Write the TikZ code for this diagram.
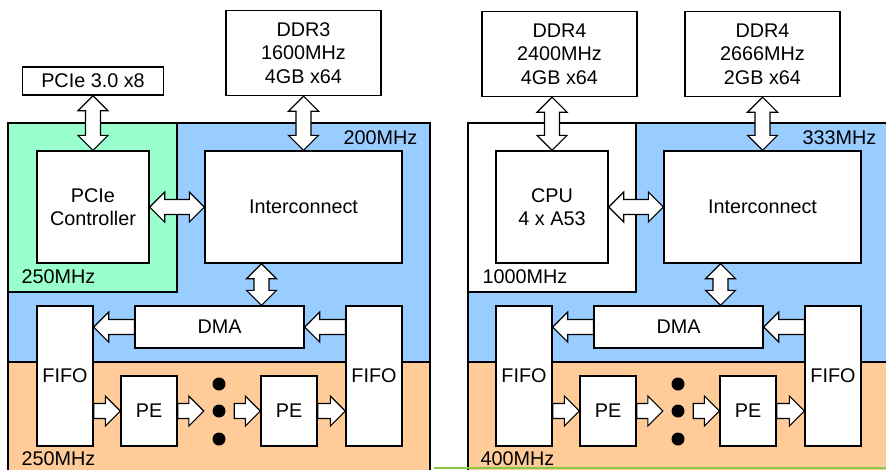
\documentclass[tikz,border=0pt]{standalone}
\usepackage{fontspec}
\setmainfont{Liberation Sans}
\usetikzlibrary{calc}

\definecolor{regiongreen}{RGB}{153,255,204}
\definecolor{regionblue}{RGB}{153,204,255}
\definecolor{regionorange}{RGB}{255,204,153}
\definecolor{edgegreen}{RGB}{140,200,70}

\tikzset{
  box/.style={draw, fill=white, inner sep=0pt, align=center},
  dot/.style={circle, fill=black, inner sep=0pt, minimum size=13pt},
  freq/.style={inner sep=0pt},
  bigarrow/.style={draw, fill=white, line join=miter, line width=1.2pt},
  twoway/.style={bigarrow, to path={
    -- ($(\tikztostart)!15pt!(\tikztotarget)!15pt!90:(\tikztotarget)$)
    -- ($(\tikztostart)!15pt!(\tikztotarget)!7.5pt!90:(\tikztotarget)$)
    -- ($(\tikztotarget)!15pt!(\tikztostart)!7.5pt!-90:(\tikztostart)$)
    -- ($(\tikztotarget)!15pt!(\tikztostart)!15pt!-90:(\tikztostart)$)
    -- (\tikztotarget)
    -- ($(\tikztotarget)!15pt!(\tikztostart)!15pt!90:(\tikztostart)$)
    -- ($(\tikztotarget)!15pt!(\tikztostart)!7.5pt!90:(\tikztostart)$)
    -- ($(\tikztostart)!15pt!(\tikztotarget)!7.5pt!-90:(\tikztotarget)$)
    -- ($(\tikztostart)!15pt!(\tikztotarget)!15pt!-90:(\tikztotarget)$)
    -- cycle}},
  oneway/.style={bigarrow, to path={
    -- ($(\tikztostart)!7.5pt!90:(\tikztotarget)$)
    -- ($(\tikztotarget)!15pt!(\tikztostart)!7.5pt!-90:(\tikztostart)$)
    -- ($(\tikztotarget)!15pt!(\tikztostart)!15pt!-90:(\tikztostart)$)
    -- (\tikztotarget)
    -- ($(\tikztotarget)!15pt!(\tikztostart)!15pt!90:(\tikztostart)$)
    -- ($(\tikztotarget)!15pt!(\tikztostart)!7.5pt!90:(\tikztostart)$)
    -- ($(\tikztostart)!7.5pt!-90:(\tikztotarget)$)
    -- cycle}}
}

\begin{document}
\begin{tikzpicture}[x=1pt, y=-1pt, line width=1.3pt, font=\fontsize{19.8}{23.5}\selectfont]
  \path[use as bounding box] (0,0) rectangle (886,469);
  \clip (0,0) rectangle (886,469);
  % Left board: clock regions
  \draw[fill=regionorange] (8,362) rectangle (430,480);
  \draw[fill=regionblue] (8,123) rectangle (430,362);
  \draw[fill=regiongreen] (8,123) rectangle (177,292);
  \node[freq, anchor=base east] (clkA1) at (418,144) {200MHz};
  \node[freq, anchor=base west] (clkA2) at (21,283) {250MHz};
  \node[freq, anchor=base west] (clkA3) at (21,465) {250MHz};
  % Left board: blocks
  \node[box, minimum width=141pt, minimum height=28pt] (pcie) at (93,81) {PCIe 3.0 x8};
  \node[box, minimum width=155pt, minimum height=85pt] (ddr3) at (303.5,53) {DDR3\\1600MHz\\4GB x64};
  \node[box, minimum width=112pt, minimum height=112pt] (pcieCtl) at (93,207) {PCIe\\Controller};
  \node[box, minimum width=197pt, minimum height=112pt] (icA) at (303.5,207) {Interconnect};
  \node[box, minimum width=169pt, minimum height=42pt] (dmaA) at (219.5,327) {DMA};
  \node[box, minimum width=56pt, minimum height=140pt] (fifoA1) at (65,376) {FIFO};
  \node[box, minimum width=56pt, minimum height=140pt] (fifoA2) at (374,376) {FIFO};
  \node[box, minimum width=56pt, minimum height=70pt] (peA1) at (149,411) {PE};
  \node[box, minimum width=56pt, minimum height=70pt] (peA2) at (289,411) {PE};
  \node[dot] (dotA1) at (219,384) {};
  \node[dot] (dotA2) at (219,411) {};
  \node[dot] (dotA3) at (219,439) {};
  % Left board: data paths
  \coordinate (busA) at ($(icA.south)!.5!(dmaA.north)$);
  \coordinate (dmaA1) at (dmaA.west -| fifoA1.east);
  \coordinate (dmaA2) at (dmaA.east -| fifoA2.west);
  \coordinate (inA1) at (fifoA1.east |- peA1.west);
  \coordinate (outA2) at (fifoA2.west |- peA2.east);
  \coordinate (dotsInA) at ($(dotA2.west)+(-8,0)$);
  \coordinate (dotsOutA) at ($(dotA2.east)+(8,0)$);
  \draw[twoway] (pcie.south) to (pcieCtl.north);
  \draw[twoway] (ddr3.south) to (icA.north);
  \draw[twoway] (pcieCtl.east) to (icA.west);
  \draw[twoway] (busA |- icA.south) to (busA |- dmaA.north);
  \draw[oneway] (dmaA.west) to (dmaA1);
  \draw[oneway] (dmaA2) to (dmaA.east);
  \draw[oneway] (inA1) to (peA1.west);
  \draw[oneway] (peA1.east) to (dotsInA);
  \draw[oneway] (dotsOutA) to (peA2.west);
  \draw[oneway] (peA2.east) to (outA2);

  \begin{scope}[xshift=459pt]
    % Right board: clock regions
    \draw[fill=regionorange] (9,362) rectangle (440,480);
    \draw[fill=regionblue] (9,123) rectangle (440,362);
    \draw[fill=white] (9,123) rectangle (177,292);
    \node[freq, anchor=base east] (clkB1) at (418,144) {333MHz};
    \node[freq, anchor=base west] (clkB2) at (23,283) {1000MHz};
    \node[freq, anchor=base west] (clkB3) at (21,465) {400MHz};
    % Right board: blocks
    \node[box, minimum width=155pt, minimum height=85pt] (ddr4a) at (100.5,54) {DDR4\\2400MHz\\4GB x64};
    \node[box, minimum width=155pt, minimum height=85pt] (ddr4b) at (303.5,54) {DDR4\\2666MHz\\2GB x64};
    \node[box, minimum width=112pt, minimum height=112pt] (cpu) at (93,207) {CPU\\4 x A53};
    \node[box, minimum width=197pt, minimum height=112pt] (icB) at (303.5,207) {Interconnect};
    \node[box, minimum width=169pt, minimum height=42pt] (dmaB) at (219.5,327) {DMA};
    \node[box, minimum width=56pt, minimum height=140pt] (fifoB1) at (65,376) {FIFO};
    \node[box, minimum width=56pt, minimum height=140pt] (fifoB2) at (374,376) {FIFO};
    \node[box, minimum width=56pt, minimum height=70pt] (peB1) at (149,411) {PE};
    \node[box, minimum width=56pt, minimum height=70pt] (peB2) at (289,411) {PE};
    \node[dot] (dotB1) at (219,384) {};
    \node[dot] (dotB2) at (219,411) {};
    \node[dot] (dotB3) at (219,439) {};
    % Right board: data paths
    \coordinate (memB) at (cpu.north |- ddr4a.south);
    \coordinate (busB) at ($(icB.south)!.5!(dmaB.north)$);
    \coordinate (dmaB1) at (dmaB.west -| fifoB1.east);
    \coordinate (dmaB2) at (dmaB.east -| fifoB2.west);
    \coordinate (inB1) at (fifoB1.east |- peB1.west);
    \coordinate (outB2) at (fifoB2.west |- peB2.east);
    \coordinate (dotsInB) at ($(dotB2.west)+(-8,0)$);
    \coordinate (dotsOutB) at ($(dotB2.east)+(8,0)$);
    \draw[twoway] (memB) to (cpu.north);
    \draw[twoway] (ddr4b.south) to (icB.north);
    \draw[twoway] (cpu.east) to (icB.west);
    \draw[twoway] (busB |- icB.south) to (busB |- dmaB.north);
    \draw[oneway] (dmaB.west) to (dmaB1);
    \draw[oneway] (dmaB2) to (dmaB.east);
    \draw[oneway] (inB1) to (peB1.west);
    \draw[oneway] (peB1.east) to (dotsInB);
    \draw[oneway] (dotsOutB) to (peB2.west);
    \draw[oneway] (peB2.east) to (outB2);
  \end{scope}
  % green edge along the bottom
  \fill[edgegreen] (434,466.5) rectangle (886,469);
\end{tikzpicture}
\end{document}
